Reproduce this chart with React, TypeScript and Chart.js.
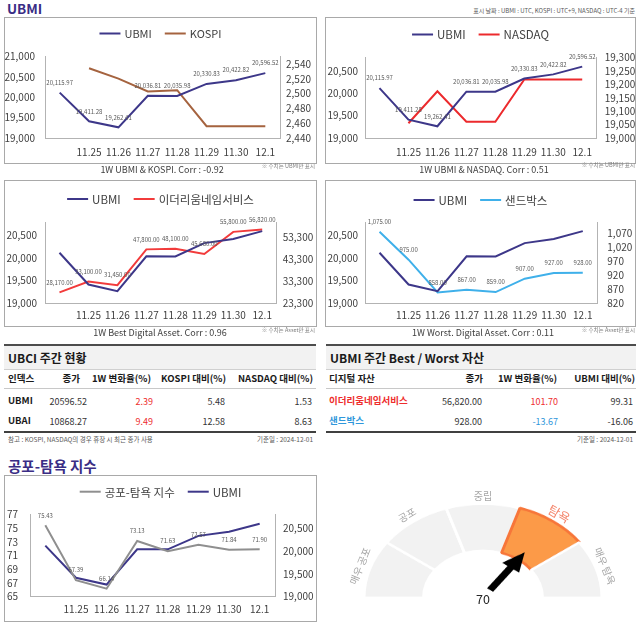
import React, { useEffect, useRef } from 'react';
import { Chart, registerables } from 'chart.js';
Chart.register(...registerables);

const FONT = "'Noto Sans CJK KR', 'Noto Sans', sans-serif";
Chart.defaults.font.family = FONT;

// ---------------- data ----------------
const dates = ['', '11.25', '11.26', '11.27', '11.28', '11.29', '11.30', '12.1'];
const ubmi = [20115.97, 19411.28, 19262.41, 20036.81, 20035.98, 20330.83, 20422.82, 20596.52];
const kospi = [null, 2534.34, 2520.36, 2503.06, 2504.67, 2455.91, 2455.91, 2455.91];
const nasdaq = [null, 19054.84, 19174.3, 19060.48, 19060.48, 19218.17, 19218.17, 19218.17];
const ensPrice = [28170, 33100, 31450, 47800, 48100, 45680, 55800, 56820];
const sandPrice = [1075, 975, 858, 867, 859, 907, 927, 928];
const fearGreed = [75.43, 67.39, 66.14, 73.13, 71.63, 72.57, 71.84, 71.9];

const ubmiTicksA = [19000, 19500, 20000, 20500, 21000];
const ubmiTicksB = [19000, 19500, 20000, 20500];
const kospiTicks = [2440, 2460, 2480, 2500, 2520, 2540];
const nasdaqTicks = [19000, 19050, 19100, 19150, 19200, 19250, 19300];
const ensTicks = [23300, 33300, 43300, 53300];
const sandTicks = [820, 870, 920, 970, 1020, 1070];
const fgTicks = [65, 67, 69, 71, 73, 75, 77];

const gaugeZones = ['매우 공포', '공포', '중립', '탐욕', '매우 탐욕'];
const gaugeZoneSizes = [20, 20, 20, 20, 20];
const gaugeActive = 3;
const gaugeValue = 70;

const ubciHeaders = ['인덱스', '종가', '1W 변화율(%)', 'KOSPI 대비(%)', 'NASDAQ 대비(%)'];
const ubciRows = [
  ['UBMI', '20596.52', '2.39', '5.48', '1.53'],
  ['UBAI', '10868.27', '9.49', '12.58', '8.63'],
];
const bwHeaders = ['디지털 자산', '종가', '1W 변화율(%)', 'UBMI 대비(%)'];
const bwRows = [
  ['이더리움네임서비스', '56,820.00', '101.70', '99.31'],
  ['샌드박스', '928.00', '-13.67', '-16.06'],
];

// ---------------- styles ----------------
const C_UBMI = '#3d3789';
const C_KOSPI = '#a5633f';
const C_NASDAQ = '#ec2a2d';
const C_ENS = '#f23b3b';
const C_SAND = '#3fb0ea';
const C_FG = '#8f8f8f';
const AXIS_C = '#b3b3b3';
const PURPLE = '#3a2d85';
const RED = '#ee2d2d';
const BLUE = '#2f97db';

const fmt0 = (v: number) => v.toLocaleString('en-US');
const fmtN = (v: number) => String(v);
const fmt2 = (v: number) => v.toLocaleString('en-US', { minimumFractionDigits: 2, maximumFractionDigits: 2 });

// ---------------- plugins ----------------
const legendPlugin = {
  id: 'customLegend',
  afterDraw(chart: any, _a: any, opts: any) {
    const ctx = chart.ctx;
    ctx.save();
    ctx.font = `${opts.size}px ${FONT}`;
    const items = chart.data.datasets.map((d: any) => ({ text: d.label, color: d.borderColor }));
    const lineLen = 21, gap = 4, itemGap = 13;
    const widths = items.map((it: any) => lineLen + gap + ctx.measureText(it.text).width);
    const total = widths.reduce((a: number, b: number) => a + b, 0) + itemGap * (items.length - 1);
    let x = chart.width / 2 - total / 2;
    items.forEach((it: any, i: number) => {
      ctx.strokeStyle = it.color;
      ctx.lineWidth = 2;
      ctx.beginPath();
      ctx.moveTo(x, opts.y);
      ctx.lineTo(x + lineLen, opts.y);
      ctx.stroke();
      ctx.fillStyle = '#404040';
      ctx.textBaseline = 'middle';
      ctx.textAlign = 'left';
      ctx.fillText(it.text, x + lineLen + gap, opts.y + 0.5);
      x += widths[i] + itemGap;
    });
    ctx.restore();
  },
};

const valueLabelPlugin = {
  id: 'valueLabels',
  afterDatasetsDraw(chart: any) {
    const ctx = chart.ctx;
    ctx.save();
    ctx.font = `6px ${FONT}`;
    ctx.fillStyle = '#595959';
    ctx.textAlign = 'center';
    ctx.textBaseline = 'middle';
    chart.data.datasets.forEach((ds: any, i: number) => {
      if (!ds.valueLabels) return;
      const meta = chart.getDatasetMeta(i);
      meta.data.forEach((pt: any, j: number) => {
        const v = ds.data[j];
        if (v == null) return;
        ctx.fillText(fmt2(v), pt.x, pt.y - 10);
      });
    });
    ctx.restore();
  },
};

const needlePlugin = {
  id: 'needle',
  afterDatasetsDraw(chart: any, _a: any, opts: any) {
    const arc = chart.getDatasetMeta(0).data[0];
    if (!arc) return;
    const ctx = chart.ctx;
    const ang = Math.PI * (1 + opts.value / 100);
    const r0 = 12, r1 = 71, headLen = 24, shaftW = 7.5, headW = 21;
    ctx.save();
    ctx.translate(arc.x, arc.y);
    ctx.rotate(ang);
    ctx.fillStyle = '#000';
    ctx.beginPath();
    ctx.moveTo(r0, -shaftW / 2);
    ctx.lineTo(r1 - headLen, -shaftW / 2);
    ctx.lineTo(r1 - headLen, -headW / 2);
    ctx.lineTo(r1, 0);
    ctx.lineTo(r1 - headLen, headW / 2);
    ctx.lineTo(r1 - headLen, shaftW / 2);
    ctx.lineTo(r0, shaftW / 2);
    ctx.closePath();
    ctx.fill();
    ctx.restore();
  },
};

// ---------------- line chart ----------------
type AxisCfg = { min: number; max: number; ticks: number[]; width: number; pad: number; fmt: (v: number) => string };
type PanelCfg = {
  top: number; xH: number; xPad: number; legendY: number; legendSize: number;
  left: AxisCfg; right: AxisCfg; datasets: any[];
};

function buildOptions(p: PanelCfg): any {
  const axis = (a: AxisCfg, position: string) => ({
    type: 'linear',
    position,
    min: a.min,
    max: a.max,
    grid: { display: false, drawTicks: false },
    border: { display: true, color: AXIS_C, width: 1 },
    afterBuildTicks: (s: any) => { s.ticks = a.ticks.map((v) => ({ value: v })); },
    afterFit: (s: any) => { s.width = a.width; },
    ticks: {
      padding: a.pad, color: '#404040', font: { size: 10 }, autoSkip: false,
      callback: (v: any) => a.fmt(Number(v)),
    },
  });
  return {
    responsive: false,
    animation: false,
    events: [],
    layout: { padding: { left: 0, right: 0, top: p.top, bottom: 0 } },
    plugins: {
      legend: { display: false },
      tooltip: { enabled: false },
      customLegend: { y: p.legendY, size: p.legendSize },
    },
    elements: { point: { radius: 0, hoverRadius: 0 }, line: { borderWidth: 2, tension: 0 } },
    scales: {
      x: {
        type: 'category',
        offset: true,
        grid: { display: false, drawTicks: false },
        border: { display: true, color: AXIS_C, width: 1 },
        ticks: { padding: p.xPad, color: '#404040', font: { size: 10 }, autoSkip: false, maxRotation: 0, minRotation: 0 },
        afterFit: (s: any) => { s.height = p.xH; },
      },
      y: axis(p.left, 'left'),
      y1: axis(p.right, 'right'),
    },
  };
}

function LineChart({ w, h, cfg }: { w: number; h: number; cfg: PanelCfg }) {
  const ref = useRef<HTMLCanvasElement>(null);
  useEffect(() => {
    const chart = new Chart(ref.current as HTMLCanvasElement, {
      type: 'line',
      data: { labels: dates, datasets: cfg.datasets },
      options: buildOptions(cfg),
      plugins: [legendPlugin, valueLabelPlugin] as any,
    } as any);
    return () => chart.destroy();
  }, []);
  return <canvas ref={ref} width={w} height={h} style={{ position: 'absolute', left: 0, top: 0, width: w, height: h }} />;
}

function Panel({ x, y, w, h, cfg }: { x: number; y: number; w: number; h: number; cfg: PanelCfg }) {
  return (
    <div style={{ position: 'absolute', left: x, top: y, width: w, height: h, boxSizing: 'border-box', border: '1px solid #a9a9a9' }}>
      <LineChart w={w - 2} h={h - 2} cfg={cfg} />
    </div>
  );
}

// ---------------- text helper ----------------
function Txt({ x, y, children, align = 'left', size = 9, bold = false, color = '#262626', rotate = 0 }: any) {
  const tx = align === 'left' ? '0' : align === 'right' ? '-100%' : '-50%';
  return (
    <div
      style={{
        position: 'absolute', left: x, top: y, transform: `translate(${tx}, -50%) rotate(${rotate}deg)`,
        fontSize: size, fontWeight: bold ? 700 : 400, color, whiteSpace: 'nowrap', lineHeight: 1, fontFamily: FONT,
      }}
    >
      {children}
    </div>
  );
}

// ---------------- gauge ----------------
const G_CX = 482.5, G_CY = 597.7, G_SQ = 0.79;

function Gauge() {
  const ref = useRef<HTMLCanvasElement>(null);
  useEffect(() => {
    const bg = gaugeZoneSizes.map((_, i) => (i === gaugeActive ? '#fc9a48' : '#f2f2f2'));
    const bc = gaugeZoneSizes.map((_, i) => (i === gaugeActive ? '#f7763a' : '#ffffff'));
    const off = gaugeZoneSizes.map((_, i) => (i === gaugeActive ? 1 : 0));
    const chart = new Chart(ref.current as HTMLCanvasElement, {
      type: 'doughnut',
      data: {
        labels: gaugeZones,
        datasets: [{ data: gaugeZoneSizes, backgroundColor: bg, borderColor: bc, borderWidth: 3, offset: off }],
      },
      options: {
        responsive: false,
        animation: false,
        events: [],
        rotation: -90,
        circumference: 180,
        radius: 119,
        cutout: '50%',
        layout: { padding: 0 },
        plugins: { legend: { display: false }, tooltip: { enabled: false }, needle: { value: gaugeValue } },
      } as any,
      plugins: [needlePlugin] as any,
    } as any);
    return () => chart.destroy();
  }, []);
  const W = 300, H = 260;
  const left = G_CX - 150;
  const top = G_CY - G_SQ * (H / 2 + 119 / 2);
  return (
    <>
      <canvas
        ref={ref}
        width={W}
        height={H}
        style={{ position: 'absolute', left, top, width: W, height: H, transform: `scaleY(${G_SQ})`, transformOrigin: '0 0' }}
      />
      {gaugeZones.map((z, i) => {
        const th = ((180 - (i + 0.5) * 36) * Math.PI) / 180;
        const active = i === gaugeActive;
        const r = active ? 131 : 129;
        const x = G_CX + r * Math.cos(th);
        const y = G_CY - G_SQ * r * Math.sin(th);
        const rot = (Math.atan2(G_SQ * Math.cos(th), Math.sin(th)) * 180) / Math.PI;
        return (
          <Txt key={z} x={x} y={y} align="center" size={active ? 12.5 : 10} rotate={rot} color={active ? '#f4856b' : '#a6a6a6'}>
            {z}
          </Txt>
        );
      })}
      <Txt x={483} y={599} align="center" size={12.5} color="#262626">{String(gaugeValue)}</Txt>
    </>
  );
}

// ---------------- tables ----------------
function TableFrame({ x, w, title }: { x: number; w: number; title: string }) {
  return (
    <>
      <div style={{ position: 'absolute', left: x, top: 344, width: w, height: 2, background: '#4d4d4d' }} />
      <div style={{ position: 'absolute', left: x, top: 346, width: w, height: 23, background: '#f2f2f2' }} />
      <div style={{ position: 'absolute', left: x, top: 369, width: w, height: 1, background: '#d0d0d0' }} />
      <div style={{ position: 'absolute', left: x, top: 388, width: w, height: 1, background: '#c8c8c8' }} />
      <div style={{ position: 'absolute', left: x, top: 431, width: w, height: 2, background: '#404040' }} />
      <Txt x={x + 4} y={357.5} size={12} bold color="#1a1a1a">{title}</Txt>
    </>
  );
}

function Tables() {
  const lHead = [80, 151, 226, 313];
  const lVal = [87, 153, 225, 312];
  const rHead = [483, 557, 635];
  const rVal = [482, 558, 633];
  const rowY = [400.7, 421];
  return (
    <>
      <TableFrame x={4} w={312} title="UBCI 주간 현황" />
      <Txt x={8} y={378.5} size={9.5} bold color="#1a1a1a">{ubciHeaders[0]}</Txt>
      {ubciHeaders.slice(1).map((h, i) => (
        <Txt key={h} x={lHead[i]} y={378.5} size={9.5} bold align="right" color="#1a1a1a">{h}</Txt>
      ))}
      {ubciRows.map((row, r) => (
        <React.Fragment key={row[0]}>
          <Txt x={8} y={rowY[r]} size={9.5} bold color="#1a1a1a">{row[0]}</Txt>
          {row.slice(1).map((v, i) => (
            <Txt key={i} x={lVal[i]} y={rowY[r]} size={9} align="right" color={i === 1 ? RED : '#333'}>{v}</Txt>
          ))}
        </React.Fragment>
      ))}
      <Txt x={8} y={438.5} size={6.5} color="#595959">참고 : KOSPI, NASDAQ의 경우 휴장 시 최근 종가 사용</Txt>
      <Txt x={313} y={438.5} size={6.5} align="right" color="#595959">기준일 : 2024-12-01</Txt>

      <TableFrame x={326} w={310} title="UBMI 주간 Best / Worst 자산" />
      <Txt x={329} y={378.5} size={9.5} bold color="#1a1a1a">{bwHeaders[0]}</Txt>
      {bwHeaders.slice(1).map((h, i) => (
        <Txt key={h} x={rHead[i]} y={378.5} size={9.5} bold align="right" color="#1a1a1a">{h}</Txt>
      ))}
      {bwRows.map((row, r) => {
        const c = r === 0 ? RED : BLUE;
        return (
          <React.Fragment key={row[0]}>
            <Txt x={329} y={rowY[r]} size={9.5} bold color={c}>{row[0]}</Txt>
            {row.slice(1).map((v, i) => (
              <Txt key={i} x={rVal[i]} y={rowY[r]} size={9} align="right" color={i === 1 ? c : '#333'}>{v}</Txt>
            ))}
          </React.Fragment>
        );
      })}
      <Txt x={633} y={439} size={6.5} align="right" color="#595959">기준일 : 2024-12-01</Txt>
    </>
  );
}

// ---------------- panel configs ----------------
const p1: PanelCfg = {
  top: 38.7, xH: 25, xPad: 8, legendY: 15.5, legendSize: 11,
  left: { min: 19000, max: 21000, ticks: ubmiTicksA, width: 40, pad: 10, fmt: fmt0 },
  right: { min: 2440, max: 2550, ticks: kospiTicks, width: 36, pad: 6, fmt: fmt0 },
  datasets: [
    { label: 'UBMI', data: ubmi, borderColor: C_UBMI, backgroundColor: C_UBMI, yAxisID: 'y', valueLabels: true },
    { label: 'KOSPI', data: kospi, borderColor: C_KOSPI, backgroundColor: C_KOSPI, yAxisID: 'y1' },
  ],
};
const p2: PanelCfg = {
  top: 39.5, xH: 25, xPad: 8, legendY: 16.5, legendSize: 11.5,
  left: { min: 19000, max: 20800, ticks: ubmiTicksB, width: 39, pad: 7, fmt: fmt0 },
  right: { min: 19000, max: 19300, ticks: nasdaqTicks, width: 38.3, pad: 8, fmt: fmt0 },
  datasets: [
    { label: 'UBMI', data: ubmi, borderColor: C_UBMI, backgroundColor: C_UBMI, yAxisID: 'y', valueLabels: true },
    { label: 'NASDAQ', data: nasdaq, borderColor: C_NASDAQ, backgroundColor: C_NASDAQ, yAxisID: 'y1' },
  ],
};
const p3: PanelCfg = {
  top: 41, xH: 23, xPad: 6, legendY: 18, legendSize: 11.5,
  left: { min: 19000, max: 20800, ticks: ubmiTicksB, width: 40, pad: 8, fmt: fmt0 },
  right: { min: 23300, max: 60300, ticks: ensTicks, width: 39.3, pad: 6, fmt: fmt0 },
  datasets: [
    { label: 'UBMI', data: ubmi, borderColor: C_UBMI, backgroundColor: C_UBMI, yAxisID: 'y' },
    { label: '이더리움네임서비스', data: ensPrice, borderColor: C_ENS, backgroundColor: C_ENS, yAxisID: 'y1', valueLabels: true },
  ],
};
const p4: PanelCfg = {
  top: 41, xH: 23, xPad: 6, legendY: 19, legendSize: 11.5,
  left: { min: 19000, max: 20800, ticks: ubmiTicksB, width: 39, pad: 7, fmt: fmt0 },
  right: { min: 820, max: 1110, ticks: sandTicks, width: 37.7, pad: 10, fmt: fmt0 },
  datasets: [
    { label: 'UBMI', data: ubmi, borderColor: C_UBMI, backgroundColor: C_UBMI, yAxisID: 'y' },
    { label: '샌드박스', data: sandPrice, borderColor: C_SAND, backgroundColor: C_SAND, yAxisID: 'y1', valueLabels: true },
  ],
};
const p7: PanelCfg = {
  top: 38.5, xH: 24.5, xPad: 6.5, legendY: 15.7, legendSize: 11.5,
  left: { min: 65, max: 77, ticks: fgTicks, width: 25, pad: 12, fmt: fmtN },
  right: { min: 19000, max: 20800, ticks: ubmiTicksB, width: 41, pad: 8, fmt: fmt0 },
  datasets: [
    { label: '공포-탐욕 지수', data: fearGreed, borderColor: C_FG, backgroundColor: C_FG, yAxisID: 'y', valueLabels: true },
    { label: 'UBMI', data: ubmi, borderColor: C_UBMI, backgroundColor: C_UBMI, yAxisID: 'y1' },
  ],
};

export default function App() {
  return (
    <div style={{ position: 'fixed', left: 0, top: 0, width: 640, height: 628, overflow: 'hidden', background: '#fff', fontFamily: FONT }}>
      <Txt x={7} y={9} size={13.5} bold color={PURPLE}>UBMI</Txt>
      <Txt x={635} y={11} size={6} align="right" color="#595959">표시 날짜 : UBMI : UTC, KOSPI : UTC+9, NASDAQ : UTC-4 기준</Txt>

      <Panel x={4} y={17} w={313} h={147} cfg={p1} />
      <Panel x={325} y={17} w={311} h={147} cfg={p2} />
      <Txt x={162} y={168.5} size={9} align="center" color="#404040">1W UBMI &amp; KOSPI. Corr : -0.92</Txt>
      <Txt x={315} y={167} size={5.5} align="right" color="#7f7f7f">※ 수치는 UBMI만 표시</Txt>
      <Txt x={484} y={168.5} size={9} align="center" color="#404040">1W UBMI &amp; NASDAQ. Corr : 0.51</Txt>
      <Txt x={635} y={166} size={5.5} align="right" color="#7f7f7f">※ 수치는 UBMI만 표시</Txt>

      <Panel x={4} y={180} w={313} h={147} cfg={p3} />
      <Panel x={325} y={180} w={311} h={147} cfg={p4} />
      <Txt x={160} y={331.5} size={9} align="center" color="#404040">1W Best Digital Asset. Corr : 0.96</Txt>
      <Txt x={315} y={330.5} size={5.5} align="right" color="#7f7f7f">※ 수치는 Asset만 표시</Txt>
      <Txt x={483} y={331.5} size={9} align="center" color="#404040">1W Worst. Digital Asset. Corr : 0.11</Txt>
      <Txt x={635} y={330.5} size={5.5} align="right" color="#7f7f7f">※ 수치는 Asset만 표시</Txt>

      <Tables />

      <Txt x={8} y={465.5} size={14.5} bold color={PURPLE}>공포-탐욕 지수</Txt>
      <Panel x={4} y={475} w={313} h={147} cfg={p7} />

      <Gauge />
    </div>
  );
}
